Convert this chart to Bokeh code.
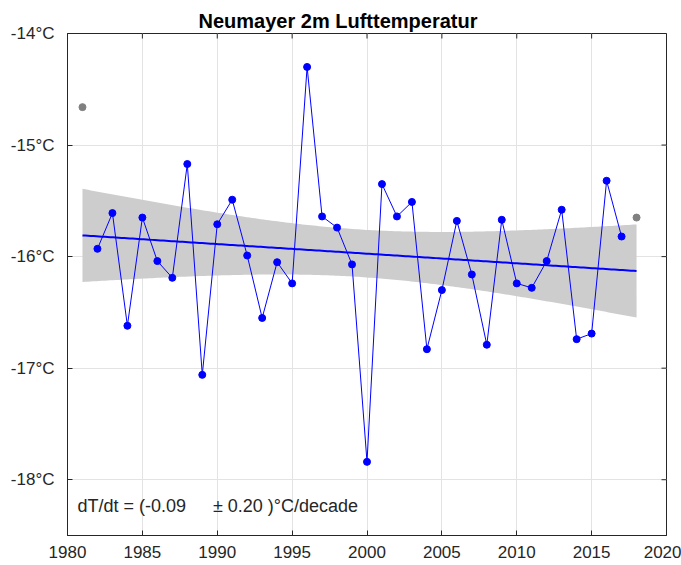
import numpy as np
from bokeh.plotting import figure
from bokeh.models import Range1d, FixedTicker, PrintfTickFormatter, Label
from bokeh.embed import file_html
from bokeh.resources import INLINE

# ---- data ----
main_years = list(range(1982, 2018))
main_temps = [-15.93, -15.61, -16.62, -15.65, -16.04, -16.19, -15.17, -17.06,
              -15.71, -15.49, -15.99, -16.55, -16.05, -16.24, -14.30, -15.64,
              -15.74, -16.07, -17.84, -15.35, -15.64, -15.51, -16.83, -16.30,
              -15.68, -16.16, -16.79, -15.67, -16.24, -16.28, -16.04, -15.58,
              -16.74, -16.69, -15.32, -15.82]
partial_years = [1981, 2018]
partial_temps = [-14.66, -15.65]

x_ticks = [1980, 1985, 1990, 1995, 2000, 2005, 2010, 2015, 2020]
y_ticks = [-18, -17, -16, -15, -14]

title_text = "Neumayer 2m Lufttemperatur"
trend_text_a = "dT/dt = (-0.09"
trend_text_b = "\u00b1 0.20 )\u00b0C/decade"

# ---- linear trend and 2-sigma band from all years ----
all_x = np.array(partial_years[:1] + main_years + partial_years[1:], dtype=float)
all_y = np.array(partial_temps[:1] + main_temps + partial_temps[1:], dtype=float)
n = len(all_x)
slope, intercept = np.polyfit(all_x, all_y, 1)
resid = all_y - (slope * all_x + intercept)
s = np.sqrt(np.sum(resid ** 2) / (n - 2))
xm = all_x.mean()
sxx = np.sum((all_x - xm) ** 2)
fx = np.linspace(all_x.min(), all_x.max(), 200)
fy = slope * fx + intercept
half = 2.0 * s * np.sqrt(1.0 / n + (fx - xm) ** 2 / sxx)

FONT = "Liberation Sans"
AX = "#262626"
X0, X1 = 1980, 2020
Y0, Y1 = -18.5, -14

p = figure(width=681, height=565, output_backend="svg", toolbar_location=None,
           x_range=Range1d(X0, X1), y_range=Range1d(Y0, Y1),
           min_border_left=67, min_border_right=15, min_border_top=33,
           min_border_bottom=30)
p.outline_line_color = AX
p.outline_line_width = 1
p.background_fill_color = "white"

p.title.text = title_text
p.title.text_font = FONT
p.title.text_font_size = "20px"
p.title.text_font_style = "bold"
p.title.text_color = "black"
p.title.align = "left"
p.title.offset = 131
p.title.standoff = 4

for ax in (p.xaxis[0], p.yaxis[0]):
    ax.axis_line_color = AX
    ax.major_tick_line_color = AX
    ax.major_tick_in = 5
    ax.major_tick_out = 0
    ax.minor_tick_line_color = None
    ax.major_label_text_font = FONT
    ax.major_label_text_font_size = "17px"
    ax.major_label_text_color = AX

p.xaxis[0].ticker = FixedTicker(ticks=x_ticks)
p.xaxis[0].major_label_standoff = 10
p.yaxis[0].ticker = FixedTicker(ticks=y_ticks)
p.yaxis[0].formatter = PrintfTickFormatter(format="%d\u00b0C")
p.yaxis[0].major_label_standoff = 13

p.xgrid.ticker = FixedTicker(ticks=x_ticks)
p.ygrid.ticker = FixedTicker(ticks=y_ticks)
p.grid.grid_line_color = "#e3e3e3"
p.grid.grid_line_width = 1

# tick marks on the top and right edges of the box (inward)
p.ray(x=x_ticks, y=[Y1] * len(x_ticks), length=5, length_units="screen",
      angle=-np.pi / 2, line_color=AX, line_width=1)
p.ray(x=[X1] * len(y_ticks), y=y_ticks, length=5, length_units="screen",
      angle=np.pi, line_color=AX, line_width=1)

# band, trend, data
p.varea(x=fx, y1=fy - half, y2=fy + half, fill_color="#cdcdcd", fill_alpha=1.0)
p.line(fx, fy, line_color="#0000ff", line_width=2)
p.line(main_years, main_temps, line_color="#0000ff", line_width=1)
p.scatter(main_years, main_temps, size=7, fill_color="#0000ff", line_color="#0000ff")
p.scatter(partial_years, partial_temps, size=7, fill_color="#808080", line_color="#808080")

p.add_layout(Label(x=1980.67, y=-18.24, text=trend_text_a, text_font=FONT,
                   text_font_size="18px", text_color=AX, text_baseline="alphabetic"))
p.add_layout(Label(x=1989.71, y=-18.24, text=trend_text_b, text_font=FONT,
                   text_font_size="18px", text_color=AX, text_baseline="alphabetic"))

open("out.html", "w").write(file_html(p, INLINE))
